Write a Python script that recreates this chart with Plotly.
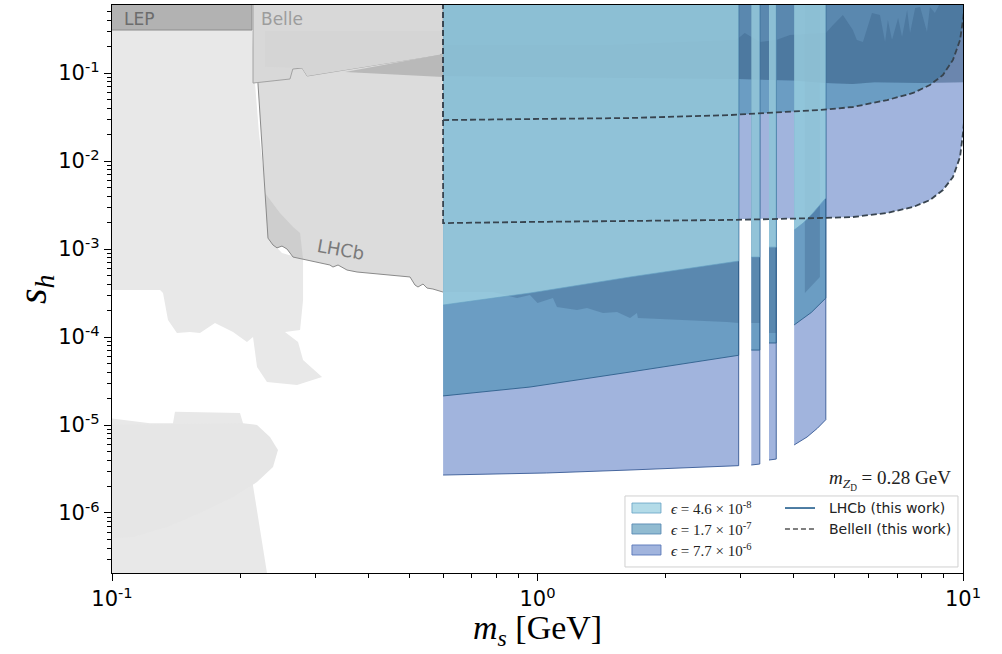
import math
import plotly.graph_objects as go

# ---------------- axes ----------------
X_RANGE = (0.1, 10.0)
Y_RANGE = (2.08e-7, 0.593)
S_CEIL = 1.0      # fills are closed above the top of the frame
M_RIGHT = 10.6    # ... and right of the frame

X_TICKS = [0.1, 1.0, 10.0]
X_TICK_TEXT = ["10<sup>-1</sup>", "10<sup>0</sup>", "10<sup>1</sup>"]
Y_TICKS = [1e-6, 1e-5, 1e-4, 1e-3, 1e-2, 1e-1]
Y_TICK_TEXT = ["10<sup>-6</sup>", "10<sup>-5</sup>", "10<sup>-4</sup>",
               "10<sup>-3</sup>", "10<sup>-2</sup>", "10<sup>-1</sup>"]

# ---------------- existing limits (grey) ----------------
LEP_M = [0.085, 0.2133, 0.2133, 0.085]
LEP_S = [0.308, 0.308, 1.0, 1.0]

BELLE_M = [0.2145, 0.2145, 0.262, 0.266, 0.2797, 0.2875, 0.6, 0.6]
BELLE_S = [1.0, 0.0769, 0.0855, 0.111, 0.114, 0.0925, 0.1645, 1.0]

BELLE_INNER_M = [0.2288, 0.2288, 0.2797, 0.2875, 0.59, 0.6, 0.6]
BELLE_INNER_S = [0.30, 0.118, 0.114, 0.0925, 0.16, 0.25, 0.30]

WEDGE_M = [0.3528, 0.6, 0.6]
WEDGE_S = [0.1026, 0.1645, 0.090]

LHCB_OLD_M = [0.2203, 0.2326, 0.2390, 0.2442, 0.2509, 0.2578, 0.2664, 0.2812, 0.2969,
              0.3083, 0.3252, 0.3306, 0.3398, 0.3567, 0.3766, 0.5017, 0.5153, 0.5237,
              0.5382, 0.55, 0.5679, 0.6]
LHCB_OLD_S = [0.0769, 0.00133, 0.00111, 0.00103, 0.00108, 0.0010, 8.1e-4, 7.69e-4, 7.31e-4,
              6.93e-4, 6.58e-4, 6.24e-4, 6.58e-4, 5.77e-4, 5.48e-4, 4.81e-4, 3.9e-4, 3.7e-4,
              4.0e-4, 3.6e-4, 3.51e-4, 3.24e-4]

LHCB_CORE_M = [0.2288, 0.2326, 0.2390, 0.2442, 0.2509, 0.2578, 0.2664, 0.2812,
               0.2767, 0.2664, 0.2481]
LHCB_CORE_S = [0.00433, 0.00133, 0.00111, 0.00103, 0.00108, 0.0010, 8.1e-4, 7.69e-4,
               0.00152, 0.00178, 0.00257]

FIXED_TARGET_M = [0.085, 0.2133, 0.2133, 0.2168, 0.2215, 0.2275, 0.2313, 0.2351, 0.2509,
                  0.2812, 0.2812, 0.2767, 0.255, 0.2737, 0.2812, 0.3116, 0.2722, 0.2313,
                  0.2192, 0.2145, 0.2076, 0.1925, 0.1746, 0.161, 0.1525, 0.1421, 0.1354,
                  0.1318, 0.1297, 0.085]
FIXED_TARGET_S = [1.0, 1.0, 0.308, 0.0769, 0.0208, 0.00731, 0.0036, 0.00126, 9e-4,
                  7.7e-4, 2.63e-4, 1.2e-4, 1.14e-4, 8.77e-5, 5.48e-5, 3.51e-5, 2.85e-5, 3.08e-5,
                  4.56e-5, 1.0e-4, 8.77e-5, 1.14e-4, 1.44e-4, 1.11e-4, 1.14e-4, 1.11e-4, 1.56e-4,
                  3.16e-4, 3.42e-4, 3.42e-4]

BEAM_DUMP_M = [0.085, 0.1228, 0.1391, 0.1406, 0.1999, 0.2032, 0.2370, 0.085]
BEAM_DUMP_S = [1.3e-5, 1.05e-5, 1.05e-5, 1.41e-5, 1.37e-5, 1.05e-5, 1.0e-7, 1.0e-7]

SUPERNOVA_M = [0.2032, 0.2192, 0.2351, 0.2455, 0.2390, 0.2192, 0.1925, 0.161, 0.1347,
               0.112, 0.085, 0.085]
SUPERNOVA_S = [1.05e-5, 1.0e-5, 7.3e-6, 5.2e-6, 3.33e-6, 2.25e-6, 1.52e-6, 1.0e-6, 6.93e-7,
               5.33e-7, 4.9e-7, 1.0e-5]

# ---------------- LHCb projection (this work) ----------------
# lower edge of each mass window, per mixing epsilon
LHCB_LO_46 = [([0.6, 0.96, 1.65, 2.80, 2.97], [2.31e-4, 3.16e-4, 4.81e-4, 7.11e-4, 7.3e-4]),
              ([3.18, 3.33], [8.1e-4, 8.1e-4]),
              ([3.50, 3.64], [1.05e-3, 1.05e-3]),
              ([4.01, 4.21, 4.44, 4.61, 4.76], [1.64e-3, 1.97e-3, 2.57e-3, 3.16e-3, 3.8e-3])]
LHCB_LO_17 = [([0.6, 0.96, 1.65, 2.80, 2.97], [2.14e-5, 2.70e-5, 4.0e-5, 5.93e-5, 6.2e-5]),
              ([3.18, 3.33], [7.1e-5, 7.1e-5]),
              ([3.50, 3.64], [8.55e-5, 8.55e-5]),
              ([4.01, 4.40, 4.76], [1.37e-4, 1.9e-4, 2.77e-4])]
LHCB_LO_77 = [([0.6, 1.05, 1.65, 2.80, 2.97], [2.70e-6, 2.85e-6, 3.08e-6, 3.42e-6, 3.45e-6]),
              ([3.18, 3.33], [3.51e-6, 3.6e-6]),
              ([3.50, 3.64], [4.0e-6, 4.1e-6]),
              ([4.01, 4.30, 4.55, 4.76], [5.93e-6, 7.3e-6, 9.2e-6, 1.15e-5])]

# displaced-vertex subregions
LHCB_DV_LO = [([0.6, 0.786, 0.895, 0.96, 1.0, 1.087, 1.111, 1.238, 1.307, 1.425, 1.538,
                1.65, 1.713, 1.722, 2.79, 2.97],
               [3.24e-4, 3.24e-4, 2.77e-4, 3.0e-4, 2.43e-4, 2.77e-4, 2.19e-4, 2.03e-4,
                2.14e-4, 1.87e-4, 1.92e-4, 1.64e-4, 1.87e-4, 1.64e-4, 1.48e-4, 1.44e-4]),
              ([3.18, 3.33], [1.44e-4, 1.44e-4]),
              ([3.50, 3.64], [1.11e-4, 1.11e-4]),
              ([4.25, 4.61], [3.16e-4, 4.8e-4])]

PROMPT_BASE_M = [0.6, 1.5, 2.97, 4.0, 4.76, 5.5, 6.2, 8.0, M_RIGHT]
PROMPT_BASE_S = [0.0925, 0.088, 0.0855, 0.082, 0.0769, 0.0752, 0.0788, 0.0769, 0.079]
PROMPT_RIDGE_M = [0.6, 1.5, 2.93, 3.07, 3.33, 3.64, 3.92, 4.76, 4.95, 5.22, 5.51, 5.63,
                  5.82, 6.11, 6.38, 6.56, 6.66, 6.81, 7.04, 7.19, 7.39, 7.51, 7.72, 7.93,
                  8.23, 8.36, 8.59, 8.83, M_RIGHT]
PROMPT_RIDGE_S = [0.208, 0.208, 0.237, 0.285, 0.225, 0.237, 0.270, 0.285, 0.351, 0.456,
                  0.308, 0.237, 0.225, 0.481, 0.456, 0.225, 0.400, 0.237, 0.422, 0.257,
                  0.520, 0.285, 0.548, 0.563, 0.292, 0.563, 0.481, 0.62, 0.62]

# ---------------- Belle II projection (this work) ----------------
BELLE2_LO_M = [0.6, 0.96, 2.83, 4.61, 5.51, 6.63, 7.63, 8.36, 8.97, 9.47, 9.84, 10.0, 10.3]
BELLE2_LO_S = [0.00197, 0.00203, 0.00214, 0.00225, 0.00231, 0.00257, 0.00300, 0.00360,
               0.00468, 0.00658, 0.0111, 0.0208, 0.1]
BELLE2_HI_M = [0.6, 0.96, 1.65, 2.83, 4.61, 5.51, 6.63, 7.63, 8.36, 8.97, 9.47, 9.84, 10.0]
BELLE2_HI_S = [0.0292, 0.0300, 0.0308, 0.0333, 0.0380, 0.0411, 0.0493, 0.0593, 0.0731,
               0.0949, 0.141, 0.237, 0.40]

EPS_TEXT = ["4.6", "1.7", "7.7"]
EPS_EXP = ["-8", "-7", "-6"]
MZD = "0.28"

# ---------------- styles ----------------
LIGHT = "rgba(160,210,226,0.8)"
LIGHT_EDGE = "rgba(100,160,195,0.8)"
STEEL = "rgba(72,142,178,0.6)"
STEEL_EDGE = "rgba(45,95,140,0.9)"
PERI = "rgba(130,155,210,0.75)"
PERI_EDGE = "rgba(55,90,150,0.9)"
DARK = "rgba(40,75,115,0.25)"
DASH_COLOR = "#38444f"
SERIF = "Liberation Serif"
SANS = "DejaVu Sans"

fig = go.Figure()


def poly(ms, ss, fill, edge=None, width=0.0):
    fig.add_trace(go.Scatter(
        x=ms, y=ss, mode="lines", fill="toself", fillcolor=fill,
        line=dict(color=edge or "rgba(0,0,0,0)", width=width if edge else 0),
        hoverinfo="skip", showlegend=False))


def line(ms, ss, color, width, dash=None):
    fig.add_trace(go.Scatter(
        x=ms, y=ss, mode="lines", line=dict(color=color, width=width, dash=dash),
        hoverinfo="skip", showlegend=False))


def up_to_ceiling(ms, ss):
    return list(ms) + [ms[-1], ms[0]], list(ss) + [S_CEIL, S_CEIL]


# grey existing bounds
poly(FIXED_TARGET_M, FIXED_TARGET_S, "#e8e8e8")
poly(BEAM_DUMP_M, BEAM_DUMP_S, "#e8e8e8")
poly(SUPERNOVA_M, SUPERNOVA_S, "#e6e6e6")
poly(LEP_M, LEP_S, "#b2b2b2", "#8e8e8e", 1)
m, s = up_to_ceiling(LHCB_OLD_M, LHCB_OLD_S)
poly(m, s, "#dcdcdc")
poly(LHCB_CORE_M, LHCB_CORE_S, "#cecece")
poly(BELLE_M, BELLE_S, "#d8d8d8", "#a2a2a2", 1)
poly(BELLE_INNER_M, BELLE_INNER_S, "#d5d5d5")
poly(WEDGE_M, WEDGE_S, "#b9b9b9")
line(LHCB_OLD_M, LHCB_OLD_S, "#8a8a8a", 1)

# Belle II and LHCb reach, largest epsilon first
poly(BELLE2_LO_M + [M_RIGHT, 0.6], BELLE2_LO_S + [S_CEIL, S_CEIL], PERI)
for ms, ss in LHCB_LO_77:
    m, s = up_to_ceiling(ms, ss)
    poly(m, s, PERI, PERI_EDGE, 1)
poly(BELLE2_HI_M + [M_RIGHT, 0.6], BELLE2_HI_S + [S_CEIL, S_CEIL], STEEL)
for ms, ss in LHCB_LO_17:
    m, s = up_to_ceiling(ms, ss)
    poly(m, s, STEEL, STEEL_EDGE, 1)
for ms, ss in LHCB_DV_LO:
    m, s = up_to_ceiling(ms, ss)
    poly(m, s, DARK)
m, s = up_to_ceiling(PROMPT_BASE_M, PROMPT_BASE_S)
poly(m, s, DARK)
poly(PROMPT_BASE_M + PROMPT_RIDGE_M[::-1], PROMPT_BASE_S + PROMPT_RIDGE_S[::-1], DARK)
for ms, ss in LHCB_LO_46:
    m, s = up_to_ceiling(ms, ss)
    poly(m, s, LIGHT, LIGHT_EDGE, 0.8)

# Belle II contours
line([0.6] + BELLE2_LO_M, [S_CEIL] + BELLE2_LO_S, DASH_COLOR, 1.8, "6px,3px")
line([0.6] + BELLE2_HI_M + [10.2], [S_CEIL] + BELLE2_HI_S + [S_CEIL], DASH_COLOR, 1.8, "6px,3px")

# ---------------- labels ----------------
ann = []
ann.append(dict(x=math.log10(0.1056), y=math.log10(0.411), xref="x", yref="y", text="LEP",
                showarrow=False, xanchor="left", yanchor="middle",
                font=dict(family=SANS, size=17, color="#6c6c6c")))
ann.append(dict(x=math.log10(0.2215), y=math.log10(0.411), xref="x", yref="y", text="Belle",
                showarrow=False, xanchor="left", yanchor="middle",
                font=dict(family=SANS, size=17, color="#9c9c9c")))
ann.append(dict(x=math.log10(0.345), y=math.log10(1.0e-3), xref="x", yref="y", text="LHCb",
                showarrow=False, textangle=10, xanchor="center", yanchor="middle",
                font=dict(family=SANS, size=18, color="#7a7a7a")))

# axis titles
ann.append(dict(x=0.5, y=-0.101, xref="paper", yref="paper",
                text="<i>m</i><sub><i>s</i></sub> [GeV]", showarrow=False,
                xanchor="center", yanchor="middle", font=dict(family=SERIF, size=34, color="black")))
ann.append(dict(x=-0.0905, y=0.5, xref="paper", yref="paper",
                text="<i>s</i><sub><i>h</i></sub>", showarrow=False, textangle=-90,
                xanchor="center", yanchor="middle", font=dict(family=SERIF, size=40, color="black")))

# benchmark mass
ann.append(dict(x=0.988, y=0.1637, xref="paper", yref="paper",
                text="<i>m</i><sub><i>Z</i><sub>D</sub></sub> = " + MZD + " GeV", showarrow=False,
                xanchor="right", yanchor="middle", font=dict(family=SERIF, size=19, color="#222")))

# legend box
shapes = [dict(type="rect", xref="paper", yref="paper", x0=0.6028, x1=0.9941, y0=0.0106, y1=0.1356,
               line=dict(color="#d0d0d0", width=1), fillcolor="rgba(255,255,255,0.85)", layer="above")]
row_y = [0.1144, 0.0775, 0.0405]
patch_fill = [LIGHT, STEEL, PERI]
patch_edge = [LIGHT_EDGE, "rgba(90,140,180,0.9)", "rgba(90,120,185,0.9)"]
for i in range(3):
    shapes.append(dict(type="rect", xref="paper", yref="paper", x0=0.6110, x1=0.6451,
                       y0=row_y[i] - 0.0088, y1=row_y[i] + 0.0088,
                       fillcolor=patch_fill[i], line=dict(color=patch_edge[i], width=1), layer="above"))
    ann.append(dict(x=0.6545, y=row_y[i], xref="paper", yref="paper",
                    text="<i>\u03f5</i> = " + EPS_TEXT[i] + " \u00d7 10<sup>" + EPS_EXP[i] + "</sup>",
                    showarrow=False, xanchor="left", yanchor="middle",
                    font=dict(family=SERIF, size=15, color="#222")))
shapes.append(dict(type="line", xref="paper", yref="paper", x0=0.7908, x1=0.8261,
                   y0=row_y[0], y1=row_y[0], line=dict(color="#3a6f99", width=1.8), layer="above"))
shapes.append(dict(type="line", xref="paper", yref="paper", x0=0.7908, x1=0.8261,
                   y0=row_y[1], y1=row_y[1], line=dict(color="#555", width=1.5, dash="5px,3px"),
                   layer="above"))
ann.append(dict(x=0.8402, y=row_y[0], xref="paper", yref="paper", text="LHCb (this work)",
                showarrow=False, xanchor="left", yanchor="middle",
                font=dict(family=SANS, size=14, color="#222")))
ann.append(dict(x=0.8402, y=row_y[1], xref="paper", yref="paper", text="BelleII (this work)",
                showarrow=False, xanchor="left", yanchor="middle",
                font=dict(family=SANS, size=14, color="#222")))

x_minor = [k * 10.0 ** d for d in (-1, 0) for k in range(2, 10)]
y_minor = [k * 10.0 ** d for d in range(-7, 0) for k in range(2, 10)
           if Y_RANGE[0] <= k * 10.0 ** d <= Y_RANGE[1]]

axis_common = dict(type="log", showgrid=False, zeroline=False, showline=True, linecolor="black",
                   linewidth=1.3, mirror=True, ticks="outside", ticklen=7, tickwidth=1.2,
                   tickcolor="black", tickmode="array",
                   tickfont=dict(family=SANS, size=21, color="black"))

fig.update_layout(
    width=1002, height=654,
    margin=dict(l=112, r=39, t=5, b=81),
    plot_bgcolor="white", paper_bgcolor="white",
    showlegend=False,
    xaxis=dict(range=[math.log10(X_RANGE[0]), math.log10(X_RANGE[1])],
               tickvals=X_TICKS, ticktext=X_TICK_TEXT,
               minor=dict(tickvals=x_minor, ticks="outside", ticklen=4, tickwidth=1,
                          tickcolor="black", showgrid=False),
               **axis_common),
    yaxis=dict(range=[math.log10(Y_RANGE[0]), math.log10(Y_RANGE[1])],
               tickvals=Y_TICKS, ticktext=Y_TICK_TEXT,
               minor=dict(tickvals=y_minor, ticks="outside", ticklen=4, tickwidth=1,
                          tickcolor="black", showgrid=False),
               **axis_common),
    annotations=ann,
    shapes=shapes,
)

fig.write_html("out.html")
